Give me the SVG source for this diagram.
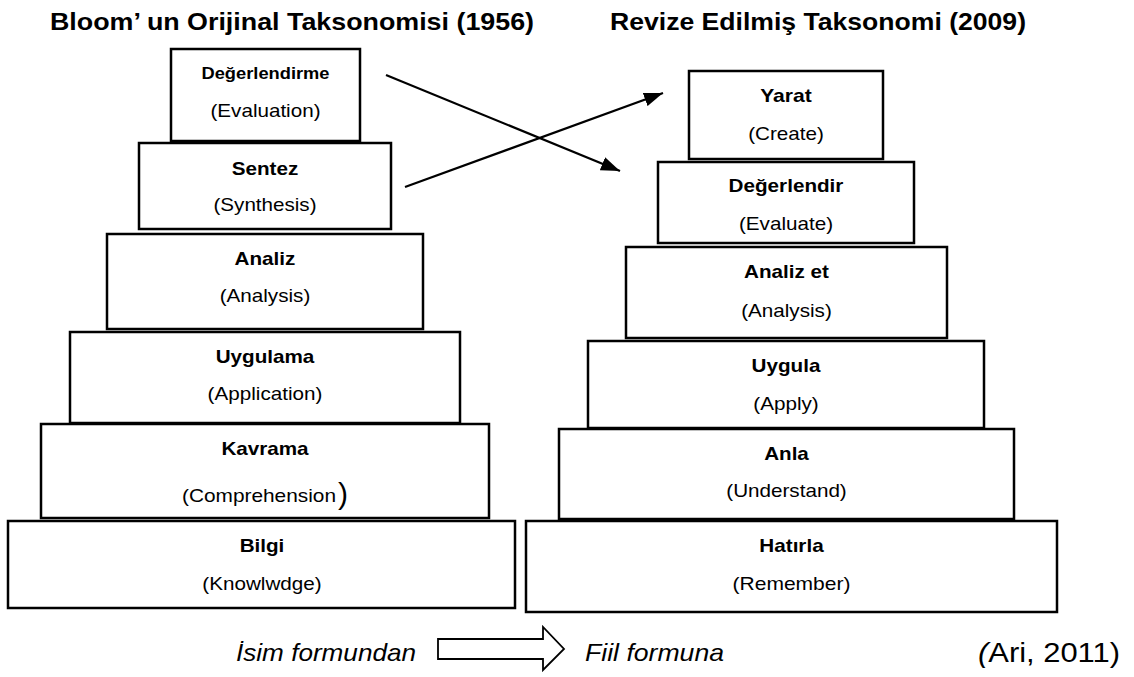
<svg xmlns="http://www.w3.org/2000/svg" width="1134" height="677" viewBox="0 0 1134 677">
  <style>
    .box { fill: #ffffff; stroke: #000000; stroke-width: 2.5; }
    .t { font-family: "Liberation Sans", Arial, sans-serif; fill: #000000; text-anchor: middle; }
    .b { font-weight: bold; font-size: 18.6px; }
    .r { font-size: 18.6px; }
    .title { font-weight: bold; font-size: 24px; }
    .it { font-style: italic; font-size: 24px; }
    .link { fill: none; stroke: #000000; stroke-width: 2.2; }
  </style>
  <defs>
    <marker id="head" markerUnits="userSpaceOnUse" markerWidth="20" markerHeight="14" refX="19" refY="7" orient="auto">
      <path d="M0,0 L19,7 L0,14 Z" fill="#000000"/>
    </marker>
  </defs>

  <!-- headings -->
  <text class="t title" x="292" y="30" textLength="484" lengthAdjust="spacingAndGlyphs">Bloom’ un Orijinal Taksonomisi (1956)</text>
  <text class="t title" x="818" y="30" textLength="416" lengthAdjust="spacingAndGlyphs">Revize Edilmiş Taksonomi (2009)</text>

  <!-- original taxonomy (left pyramid) -->
  <g id="degerlendirme">
    <rect class="box" x="171" y="49" width="189" height="92"/>
    <text class="t b" x="265.5" y="79" style="font-size:16.5px" textLength="128" lengthAdjust="spacingAndGlyphs">Değerlendirme</text>
    <text class="t r" x="265.5" y="117" textLength="110" lengthAdjust="spacingAndGlyphs">(Evaluation)</text>
  </g>
  <g id="sentez">
    <rect class="box" x="139" y="143" width="252" height="86"/>
    <text class="t b" x="265" y="175" textLength="66.6" lengthAdjust="spacingAndGlyphs">Sentez</text>
    <text class="t r" x="265" y="211" textLength="103" lengthAdjust="spacingAndGlyphs">(Synthesis)</text>
  </g>
  <g id="analiz">
    <rect class="box" x="107" y="234" width="316" height="95"/>
    <text class="t b" x="265" y="265" textLength="60.8" lengthAdjust="spacingAndGlyphs">Analiz</text>
    <text class="t r" x="265" y="302" textLength="90.6" lengthAdjust="spacingAndGlyphs">(Analysis)</text>
  </g>
  <g id="uygulama">
    <rect class="box" x="70" y="332" width="390" height="91"/>
    <text class="t b" x="265" y="363" textLength="98.7" lengthAdjust="spacingAndGlyphs">Uygulama</text>
    <text class="t r" x="265" y="400" textLength="114.8" lengthAdjust="spacingAndGlyphs">(Application)</text>
  </g>
  <g id="kavrama">
    <rect class="box" x="41" y="424" width="448" height="94"/>
    <text class="t b" x="265" y="455" textLength="87.2" lengthAdjust="spacingAndGlyphs">Kavrama</text>
    <text class="t r" x="182" y="502" style="text-anchor:start" textLength="154" lengthAdjust="spacingAndGlyphs">(Comprehension</text>
    <text class="t r" x="338" y="504" style="text-anchor:start;font-size:30px">)</text>
  </g>
  <g id="bilgi">
    <rect class="box" x="8" y="521" width="507" height="87"/>
    <text class="t b" x="262" y="552" textLength="44.7" lengthAdjust="spacingAndGlyphs">Bilgi</text>
    <text class="t r" x="262" y="590" textLength="119.3" lengthAdjust="spacingAndGlyphs">(Knowlwdge)</text>
  </g>

  <!-- revised taxonomy (right pyramid) -->
  <g id="yarat">
    <rect class="box" x="689" y="71" width="194" height="88"/>
    <text class="t b" x="786" y="102" textLength="51.6" lengthAdjust="spacingAndGlyphs">Yarat</text>
    <text class="t r" x="786" y="140" textLength="75.7" lengthAdjust="spacingAndGlyphs">(Create)</text>
  </g>
  <g id="degerlendir">
    <rect class="box" x="658" y="162" width="256" height="81"/>
    <text class="t b" x="786" y="192" textLength="114.8" lengthAdjust="spacingAndGlyphs">Değerlendir</text>
    <text class="t r" x="786" y="230" textLength="94.1" lengthAdjust="spacingAndGlyphs">(Evaluate)</text>
  </g>
  <g id="analiz-et">
    <rect class="box" x="626" y="247" width="321" height="91"/>
    <text class="t b" x="786.5" y="278" textLength="84.9" lengthAdjust="spacingAndGlyphs">Analiz et</text>
    <text class="t r" x="786.5" y="317" textLength="90.6" lengthAdjust="spacingAndGlyphs">(Analysis)</text>
  </g>
  <g id="uygula">
    <rect class="box" x="588" y="341" width="396" height="87"/>
    <text class="t b" x="786" y="372" textLength="68.8" lengthAdjust="spacingAndGlyphs">Uygula</text>
    <text class="t r" x="786" y="410" textLength="65.4" lengthAdjust="spacingAndGlyphs">(Apply)</text>
  </g>
  <g id="anla">
    <rect class="box" x="559" y="429" width="455" height="90"/>
    <text class="t b" x="786.5" y="460" textLength="44.7" lengthAdjust="spacingAndGlyphs">Anla</text>
    <text class="t r" x="786.5" y="497" textLength="120.5" lengthAdjust="spacingAndGlyphs">(Understand)</text>
  </g>
  <g id="hatirla">
    <rect class="box" x="526" y="521" width="531" height="91"/>
    <text class="t b" x="791.5" y="552" textLength="64.3" lengthAdjust="spacingAndGlyphs">Hatırla</text>
    <text class="t r" x="791.5" y="590" textLength="117.9" lengthAdjust="spacingAndGlyphs">(Remember)</text>
  </g>

  <!-- crossing connectors between levels -->
  <g id="connectors">
    <line class="link" x1="386" y1="75" x2="620" y2="171" marker-end="url(#head)"/>
    <line class="link" x1="405" y1="187" x2="663" y2="93" marker-end="url(#head)"/>
  </g>

  <!-- footer: noun form to verb form -->
  <g id="footer">
    <text class="t it" x="236" y="661" style="text-anchor:start" textLength="180" lengthAdjust="spacingAndGlyphs">İsim formundan</text>
    <polygon points="438,639 543,639 543,627 564,649 543,670 543,659 438,659" fill="#ffffff" stroke="#000000" stroke-width="1.8" stroke-linejoin="miter"/>
    <text class="t it" x="585" y="661" style="text-anchor:start" textLength="139" lengthAdjust="spacingAndGlyphs">Fiil formuna</text>
    <text class="t" x="978" y="662" style="text-anchor:start;font-size:27px" textLength="142" lengthAdjust="spacingAndGlyphs"><tspan font-style="italic">(</tspan>Ari, 2011)</text>
  </g>
</svg>
